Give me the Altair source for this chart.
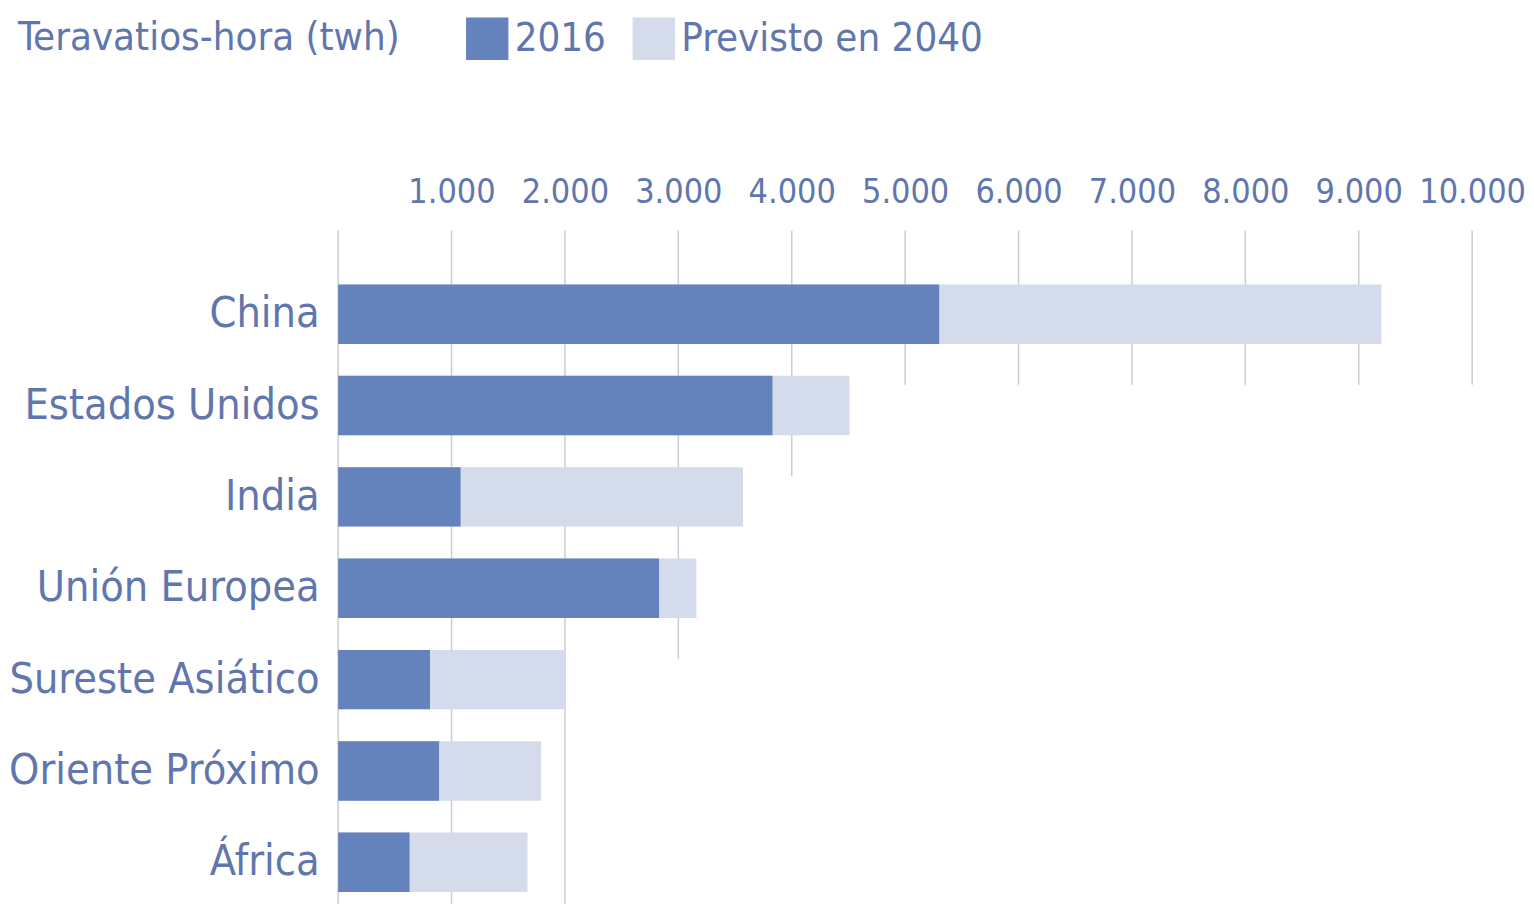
import altair as alt
import pandas as pd

# ---- data ----
regions = ["China", "Estados Unidos", "India", "Unión Europea",
           "Sureste Asiático", "Oriente Próximo", "África"]
twh_2016 = [5300, 3830, 1080, 2830, 810, 890, 630]
twh_2040 = [9200, 4510, 3570, 3160, 2000, 1790, 1670]
series = ["2016", "Previsto en 2040"]
tick_values = [1000, 2000, 3000, 4000, 5000, 6000, 7000, 8000, 9000, 10000]
full_grid = [0, 1000, 2000]
partial_grid = [3000, 4000, 5000, 6000, 7000, 8000, 9000, 10000]
partial_grid_end = ["Sureste Asiático", "India", "Estados Unidos", "Estados Unidos",
                    "Estados Unidos", "Estados Unidos", "Estados Unidos", "Estados Unidos"]

# ---- style ----
FONT = "DejaVu Sans Condensed"
DARK = "#6482bb"
LIGHT = "#d4dbea"
TEXT = "#6176ad"
GRID = "#c9ccd6"
W, H = 1137, 675

bars = pd.DataFrame(
    [{"region": r, "serie": series[1], "twh": v} for r, v in zip(regions, twh_2040)]
    + [{"region": r, "serie": series[0], "twh": v} for r, v in zip(regions, twh_2016)]
)
full_df = pd.DataFrame({"twh": full_grid})
part_df = pd.DataFrame({"twh": partial_grid, "region": partial_grid_end})

x_scale = alt.Scale(domain=[0, 10000], nice=False, zero=True)
y_scale = alt.Scale(domain=regions, paddingInner=0.35, paddingOuter=0.36, align=0.82)

x_axis = alt.Axis(
    orient="top",
    values=tick_values,
    labelExpr="replace(format(datum.value, ','), ',', '.')",
    title=None,
    grid=False,
    domain=False,
    ticks=False,
    labelFontSize=34,
    labelPadding=21,
    labelOverlap=False,
    labelFlush=False,
    labelColor=TEXT,
    labelFont=FONT,
)
y_axis = alt.Axis(
    title=None,
    domain=False,
    ticks=False,
    grid=False,
    labelFontSize=43,
    labelPadding=19,
    labelColor=TEXT,
    labelFont=FONT,
    labelLimit=400,
    minExtent=331,
    maxExtent=331,
)

grid_full = alt.Chart(full_df).mark_rule(color=GRID, strokeWidth=1.5).encode(
    x=alt.X("twh:Q", scale=x_scale, axis=x_axis),
    y=alt.value(0),
    y2=alt.value(H),
)

grid_part = alt.Chart(part_df).mark_rule(color=GRID, strokeWidth=1.5).encode(
    x=alt.X("twh:Q", scale=x_scale, axis=x_axis),
    y=alt.Y("region:N", scale=y_scale, axis=y_axis, bandPosition=0.15),
    y2=alt.value(0),
)

bar_layer = alt.Chart(bars).mark_bar().encode(
    x=alt.X("twh:Q", scale=x_scale, stack=None, axis=x_axis),
    y=alt.Y("region:N", scale=y_scale, axis=y_axis),
    color=alt.Color(
        "serie:N",
        scale=alt.Scale(domain=series, range=[DARK, LIGHT]),
        legend=alt.Legend(
            title="Teravatios-hora (twh)",
            orient="none",
            direction="horizontal",
            legendX=-321,
            legendY=-214,
            titleOrient="left",
            titleFont=FONT,
            titleFontSize=40,
            titleFontWeight="normal",
            titleColor=TEXT,
            titlePadding=66,
            titleLimit=600,
            titleAnchor="middle",
            titleBaseline="middle",
            labelFont=FONT,
            labelFontSize=40,
            labelColor=TEXT,
            labelLimit=600,
            labelOffset=6,
            columnPadding=26,
            symbolType="square",
            symbolSize=1800,
            symbolStrokeWidth=0,
            symbolOpacity=1,
        ),
    ),
)

chart = (
    alt.layer(grid_full, grid_part, bar_layer)
    .properties(width=W, height=H, background="white",
                padding={"left": 0, "top": 8, "right": 0, "bottom": 0})
    .configure_view(strokeWidth=0, stroke="transparent")
)

chart.save("out.html", embed_options={"renderer": "svg", "actions": False})
